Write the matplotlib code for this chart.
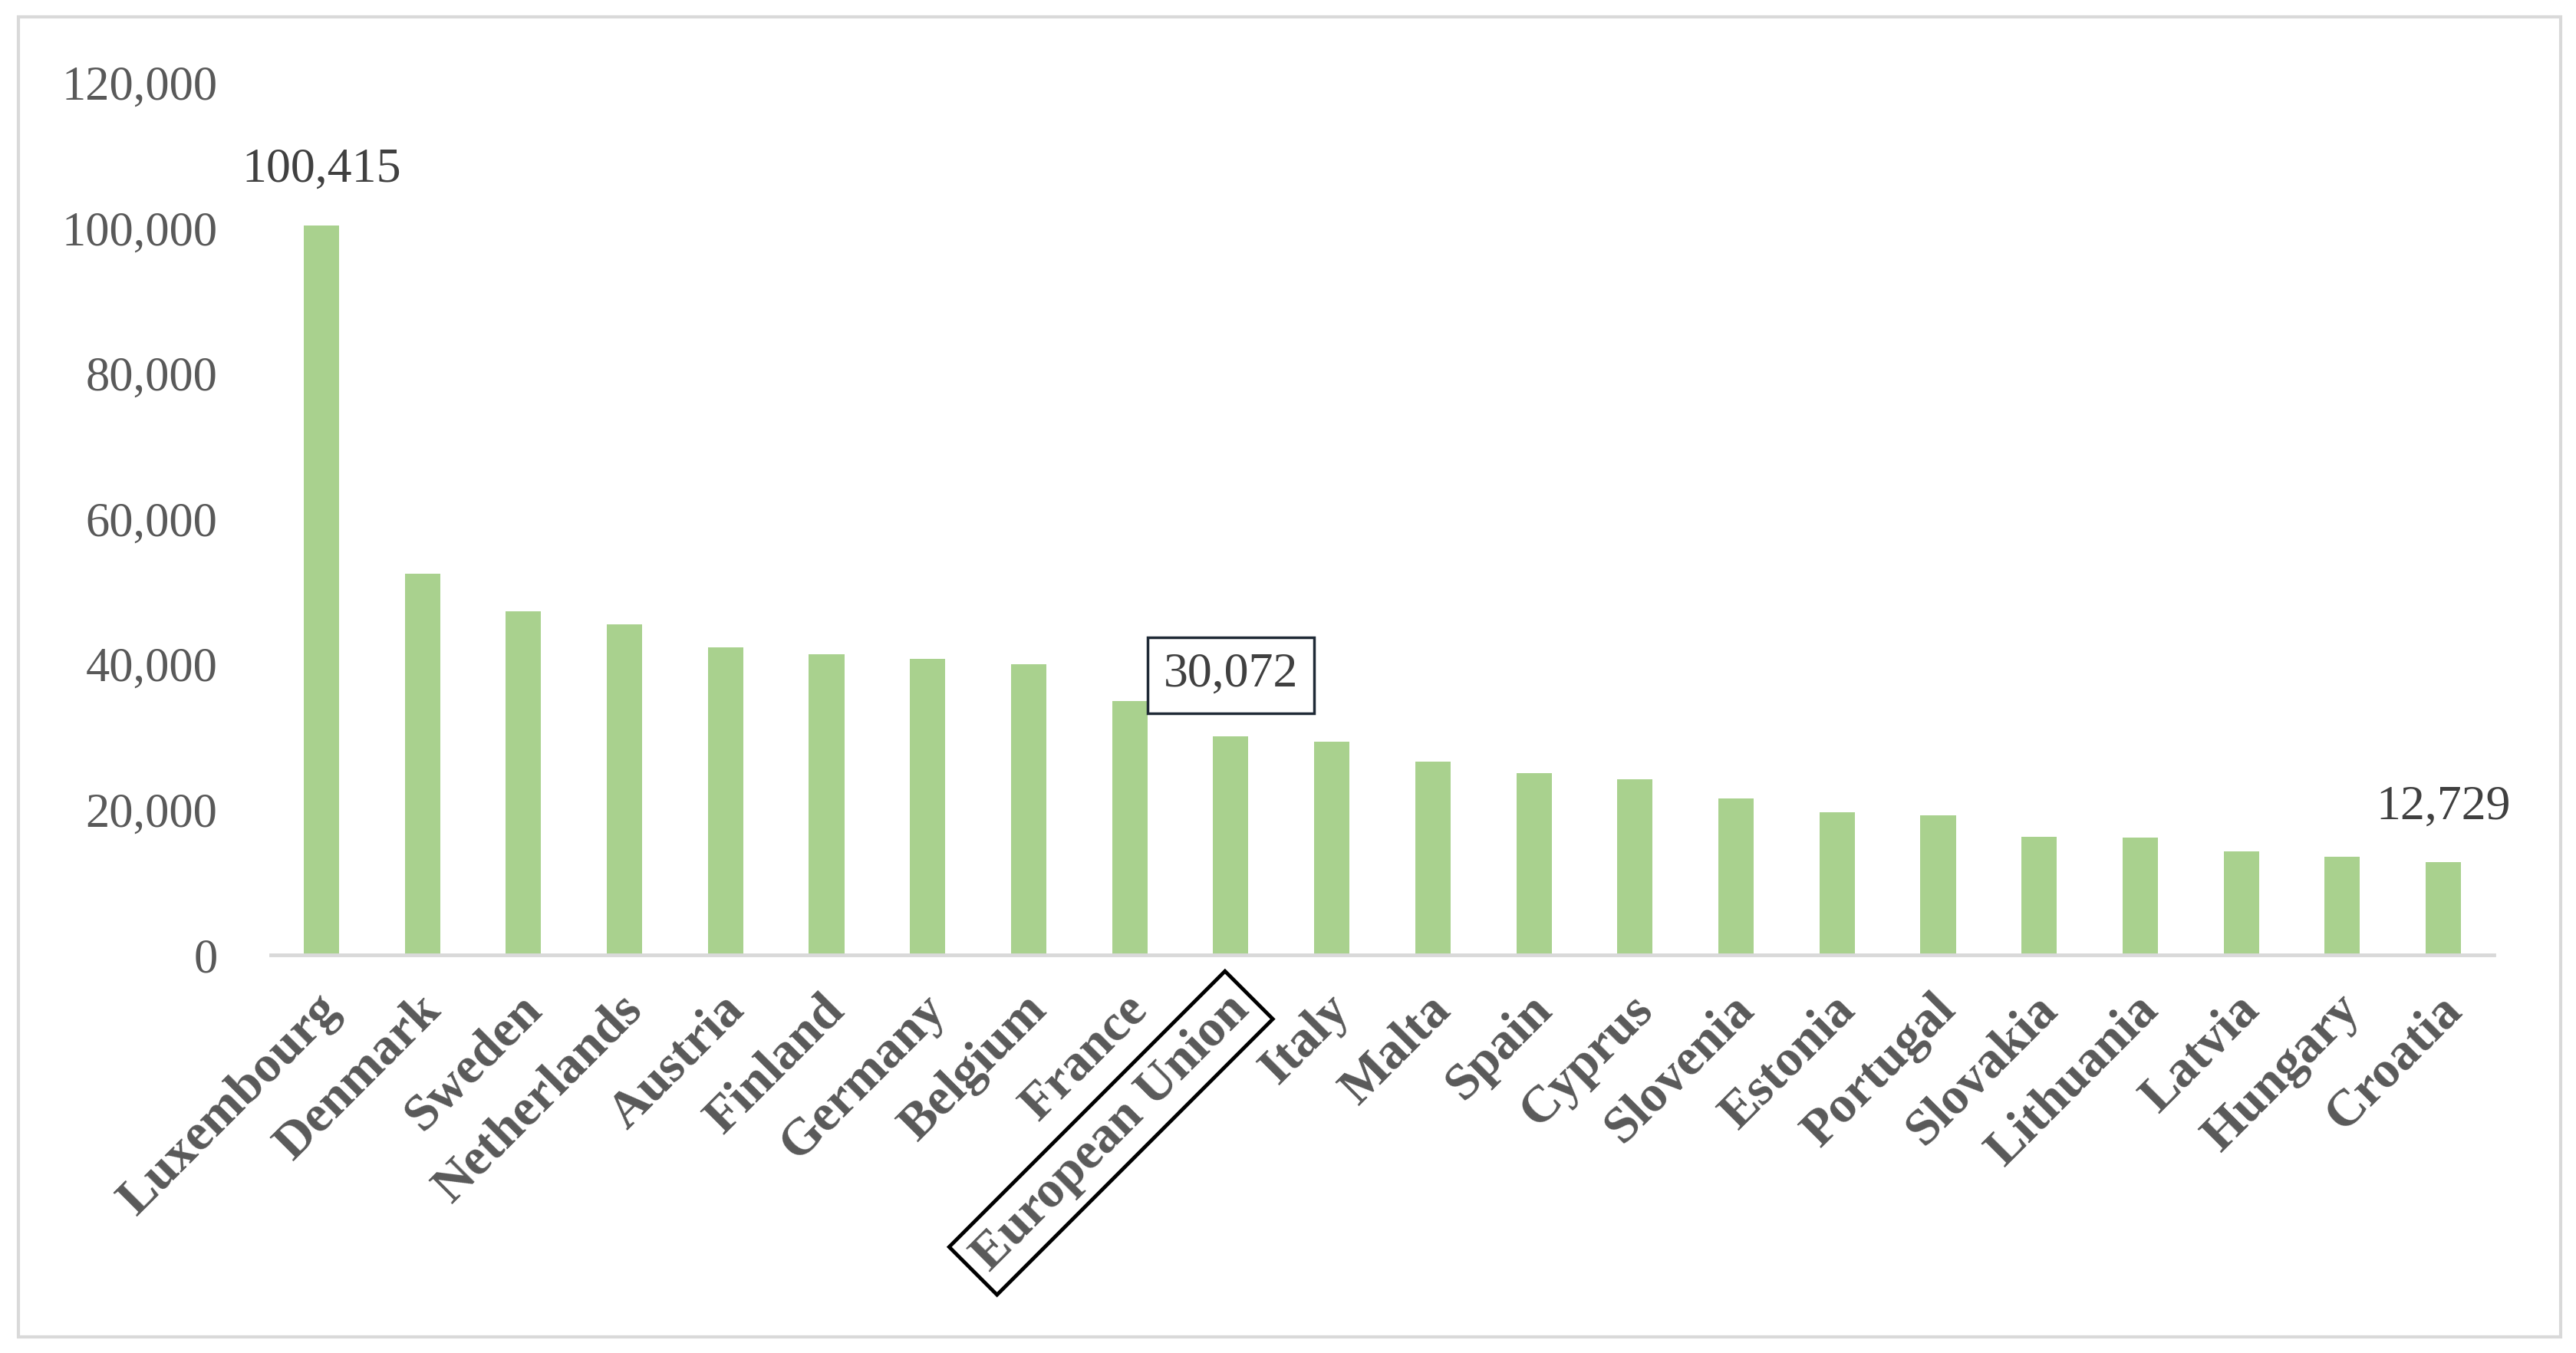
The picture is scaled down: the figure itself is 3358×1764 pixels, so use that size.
import matplotlib
matplotlib.use("Agg")
import matplotlib.pyplot as plt
from matplotlib.patches import Rectangle
from matplotlib.transforms import ScaledTranslation, blended_transform_factory

countries = ["Luxembourg", "Denmark", "Sweden", "Netherlands", "Austria", "Finland",
             "Germany", "Belgium", "France", "European Union", "Italy", "Malta", "Spain",
             "Cyprus", "Slovenia", "Estonia", "Portugal", "Slovakia", "Lithuania",
             "Latvia", "Hungary", "Croatia"]
values = [100415, 52500, 47300, 45500, 42300, 41400, 40700, 40000, 34900, 30072,
          29300, 26600, 25000, 24200, 21500, 19600, 19200, 16300, 16100, 14300,
          13500, 12729]
yticks = [0, 20000, 40000, 60000, 80000, 100000, 120000]
labeled = {0: "100,415", 9: "30,072", 21: "12,729"}

W, H, DPI = 3358, 1764, 100
fig = plt.figure(figsize=(W / DPI, H / DPI), dpi=DPI)
plt.rcParams['font.family'] = ['Liberation Serif', 'DejaVu Serif']

ax = fig.add_axes([353 / W, 1 - 1245 / H, (3251 - 353) / W, (1245 - 108) / H])
x = list(range(len(countries)))
ax.bar(x, values, width=0.35, color="#A9D18E", zorder=2)
ax.set_xlim(-0.5, len(countries) - 0.5)
ax.set_ylim(0, 120000)

for s in ["top", "right", "left"]:
    ax.spines[s].set_visible(False)
ax.spines["bottom"].set_color("#D9D9D9")
ax.spines["bottom"].set_linewidth(3.5)

ax.set_yticks(yticks)
ax.set_yticklabels([f"{v:,}" for v in yticks], fontsize=45, color="#595959")
ax.tick_params(axis="y", length=0, pad=50)
ax.set_xticks([])

trans = blended_transform_factory(ax.transData, ax.transAxes)
for i, name in enumerate(countries):
    off = ScaledTranslation(14 / DPI, -62 / DPI, fig.dpi_scale_trans)
    kw = {}
    if name == "European Union":
        kw["bbox"] = dict(boxstyle="square,pad=0.2", fc="none", ec="black", lw=3.5)
    ax.text(i, 0, name, transform=trans + off, rotation=45, rotation_mode="anchor",
            ha="right", va="center", fontsize=49, fontweight="bold", color="#595959", **kw)

for i, lab in labeled.items():
    off = ScaledTranslation(0, 72 / DPI, fig.dpi_scale_trans)
    kw = {}
    if i == 9:
        off = ScaledTranslation(0, 80 / DPI, fig.dpi_scale_trans)
        kw["bbox"] = dict(boxstyle="square,pad=0.32", fc="white", ec="#1F2A36", lw=2.5)
    ax.text(i, values[i], lab, transform=ax.transData + off, ha="center", va="center",
            fontsize=46, color="#404040", zorder=5, **kw)

fig.patches.append(Rectangle((24 / W, 1 - 1743 / H), (3338 - 24) / W, (1743 - 22) / H,
                             transform=fig.transFigure, fill=False, ec="#D9D9D9", lw=3))

fig.savefig("out.png", dpi=DPI, facecolor="white")
